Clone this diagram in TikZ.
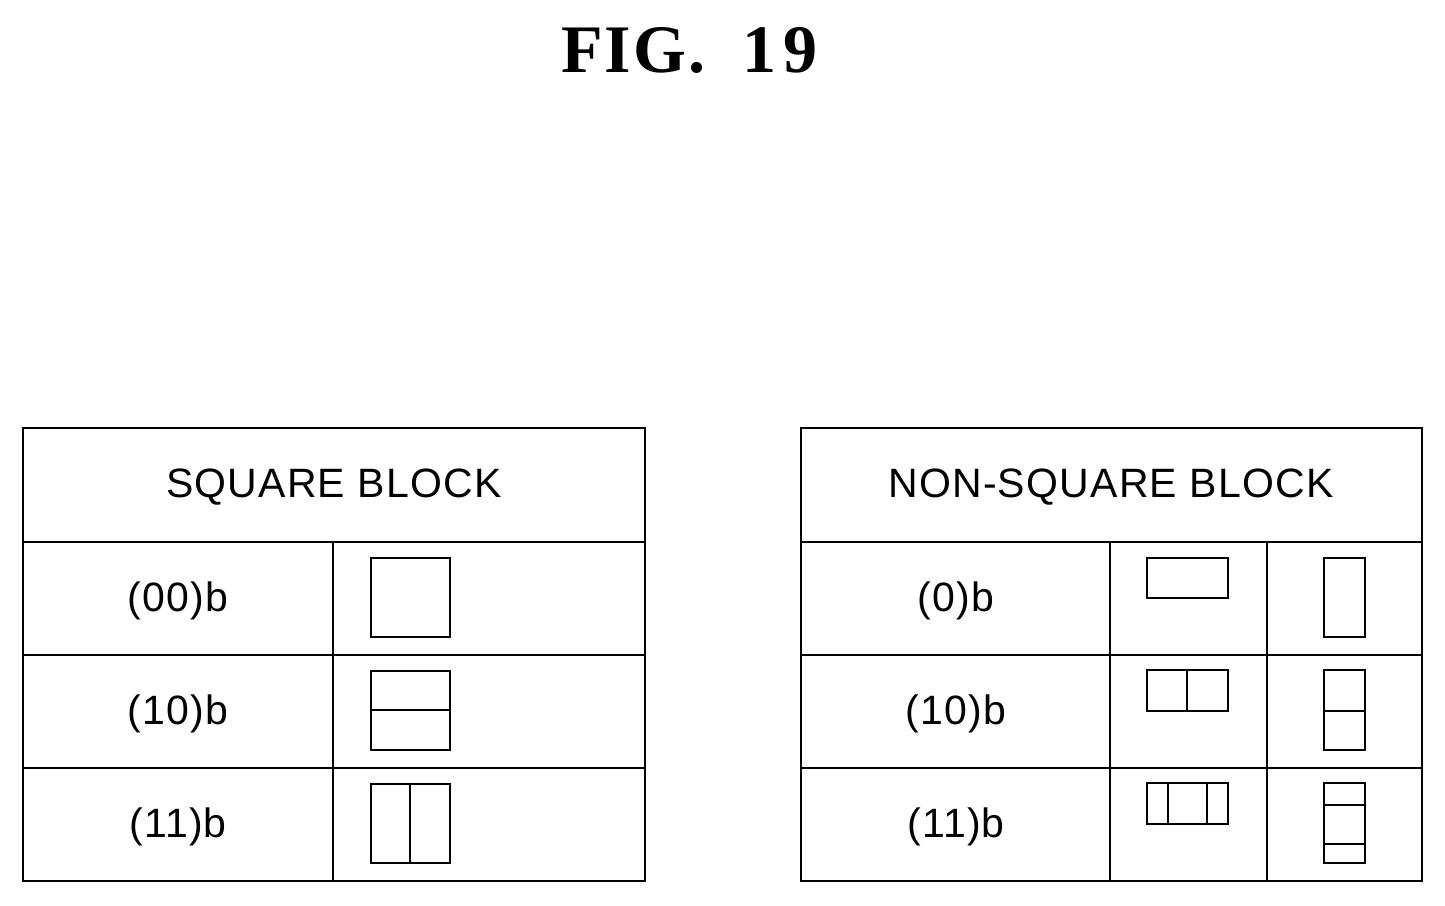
\documentclass[tikz,border=0pt]{standalone}
\usepackage{fontspec}
\setmainfont{Liberation Sans}
\newfontfamily\titlefont[LetterSpace=3]{Liberation Serif}
\begin{document}
\begin{tikzpicture}[x=1pt,y=-1pt,line width=2.2pt,
  lbl/.style={font=\addfontfeature{LetterSpace=3}\fontsize{41}{43}\selectfont},
  ic/.style={line width=1.8pt}]
\useasboundingbox (0,0) rectangle (1445,905);
\node[font=\titlefont\bfseries\fontsize{68}{70}\selectfont] (title) at (689,50) {FIG.\hspace{38pt}1\hspace{6pt}9};
% left table
\draw (23,428) rectangle (645,881);
\foreach \y in {542,655,768} \draw (23,\y) -- (645,\y);
\draw (333,542) -- (333,881);
\node[lbl] (lh) at (334,487) {SQUARE BLOCK};
\node[lbl] (l1) at (178,601) {(00)b};
\node[lbl] (l2) at (178,714) {(10)b};
\node[lbl] (l3) at (178,827) {(11)b};
\draw[ic] (371,558) rectangle (450,637);
\draw[ic] (371,671) rectangle (450,750) (371,710) -- (450,710);
\draw[ic] (371,784) rectangle (450,863) (410,784) -- (410,863);
% right table
\draw (801,428) rectangle (1422,881);
\foreach \y in {542,655,768} \draw (801,\y) -- (1422,\y);
\draw (1110,542) -- (1110,881) (1267,542) -- (1267,881);
\node[lbl] (rh) at (1111,487) {NON-SQUARE BLOCK};
\node[lbl] (r1) at (956,601) {(0)b};
\node[lbl] (r2) at (956,714) {(10)b};
\node[lbl] (r3) at (956,827) {(11)b};
\draw[ic] (1147,558) rectangle (1228,598);
\draw[ic] (1147,670) rectangle (1228,711) (1187,670) -- (1187,711);
\draw[ic] (1147,783) rectangle (1228,824) (1168,783) -- (1168,824) (1207,783) -- (1207,824);
\draw[ic] (1324,558) rectangle (1365,637);
\draw[ic] (1324,670) rectangle (1365,750) (1324,711) -- (1365,711);
\draw[ic] (1324,783) rectangle (1365,863) (1324,805) -- (1365,805) (1324,844) -- (1365,844);
\end{tikzpicture}
\end{document}
